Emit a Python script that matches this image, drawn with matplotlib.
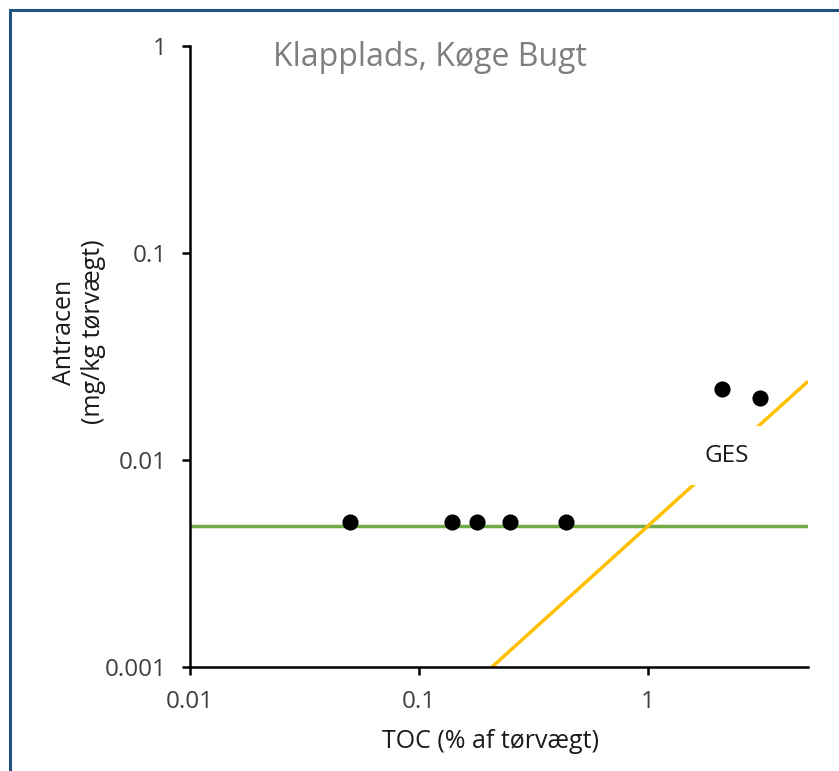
import matplotlib
matplotlib.use("Agg")
import matplotlib.pyplot as plt
import numpy as np
from matplotlib.ticker import FixedLocator, FixedFormatter, NullLocator
from matplotlib.patches import Rectangle

plt.rcParams['font.family'] = ['Open Sans', 'DejaVu Sans']

# Data
toc = [0.05, 0.14, 0.18, 0.25, 0.44, 2.1, 3.1]
antracen = [0.005, 0.005, 0.005, 0.005, 0.005, 0.022, 0.020]
ges_level = 0.0048          # horizontal green line
ges_slope = 0.0048          # orange line: y = ges_slope * TOC
line_x = [0.1, 5.0]
xticks = [0.01, 0.1, 1]
xticklabels = ["0.01", "0.1", "1"]
yticks = [0.001, 0.01, 0.1, 1]
yticklabels = ["0.001", "0.01", "0.1", "1"]
title = "Klapplads, Køge Bugt"
xlabel = "TOC (% af tørvægt)"
ylabel = "Antracen\n(mg/kg tørvægt)"
ges_label = "GES"
ges_label_pos = (2.2, 0.0105)

W, H = 839, 771
fig = plt.figure(figsize=(W / 100, H / 100), dpi=100)
ax = fig.add_axes([190 / W, 1 - 667 / H, 618 / W, 621 / H])

ax.set_xscale("log")
ax.set_yscale("log")
ax.set_xlim(0.01, 5.0)
ax.set_ylim(0.001, 1)

ax.axhline(ges_level, color="#70AD47", lw=2.5, zorder=2)
lx = np.array(line_x)
ax.plot(lx, ges_slope * lx, color="#FFC000", lw=2.5, zorder=2, solid_capstyle="butt")
ax.scatter(toc, antracen, s=135, color="black", zorder=4, linewidths=0)

ax.text(*ges_label_pos, ges_label, fontsize=17.5, color="#1a1a1a", ha="center", va="center",
        zorder=3, bbox=dict(boxstyle="square,pad=0.72", fc="white", ec="none"))

for s in ["top", "right"]:
    ax.spines[s].set_visible(False)
for s in ["left", "bottom"]:
    ax.spines[s].set_linewidth(1.8)
    ax.spines[s].set_color("black")

ax.xaxis.set_major_locator(FixedLocator(xticks))
ax.xaxis.set_major_formatter(FixedFormatter(xticklabels))
ax.yaxis.set_major_locator(FixedLocator(yticks))
ax.yaxis.set_major_formatter(FixedFormatter(yticklabels))
ax.xaxis.set_minor_locator(NullLocator())
ax.yaxis.set_minor_locator(NullLocator())
ax.tick_params(axis="both", which="major", direction="out", length=5.5, width=1.8,
               labelsize=17.5, labelcolor="#404040", color="black")
ax.tick_params(axis="x", pad=11)
ax.tick_params(axis="y", pad=11)

fig.text(430 / W, 1 - 57 / H, title, fontsize=23, color="#7F7F7F", ha="center", va="center")
fig.text(491 / W, 1 - 742 / H, xlabel, fontsize=18, color="#1a1a1a", ha="center", va="center")
fig.text(79 / W, 1 - 332 / H, ylabel, fontsize=18, color="#1a1a1a", ha="center", va="center",
         rotation=90, linespacing=1.25)

# Frame border
fig.patches.append(Rectangle((10 / W, -0.05), 1.1, 1 - 10 / H + 0.05, transform=fig.transFigure,
                             fill=False, ec="#1F5480", lw=2.2, zorder=0))

fig.savefig("out.png", dpi=100)
